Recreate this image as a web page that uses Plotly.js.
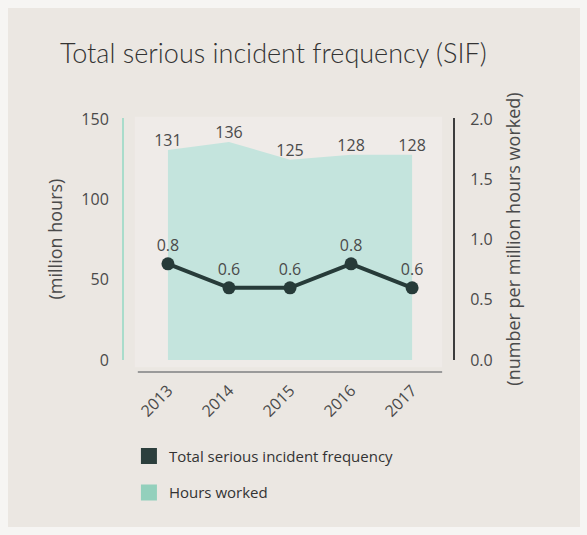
<!DOCTYPE html>
<html>
<head>
<meta charset="utf-8">
<script src="https://cdn.plot.ly/plotly-3.0.1.min.js"></script>
<style>html,body{margin:0;padding:0;background:#f6f5f3;}</style>
</head>
<body>
<div id="chart" style="width:587px;height:535px;"></div>
<script>
const years = ["2013", "2014", "2015", "2016", "2017"];
const hoursWorked = [131, 136, 125, 128, 128];
const sif = [0.8, 0.6, 0.6, 0.8, 0.6];
const leftTicks = [0, 50, 100, 150];
const rightTicks = [0, 0.5, 1.0, 1.5, 2.0];
const rightTickText = ["0.0", "0.5", "1.0", "1.5", "2.0"];

const FONT = "'Open Sans', Lato, sans-serif";
const TFONT = "Lato, 'Open Sans', sans-serif";
const TXT = "#4a4a4a";

const traces = [
  {
    type: "scatter", x: years, y: hoursWorked, mode: "lines+text",
    fill: "tozeroy", fillcolor: "#c4e4dd", line: {width: 0, color: "#c4e4dd"},
    text: hoursWorked.map(String), textposition: "top center",
    textfont: {family: FONT, size: 16, color: TXT},
    showlegend: false, hoverinfo: "skip", cliponaxis: false
  },
  {
    type: "scatter", x: years, y: sif, yaxis: "y2", mode: "lines+markers+text",
    line: {color: "#273b39", width: 4},
    marker: {color: "#273b39", size: 13},
    text: sif.map(v => v.toFixed(1)), textposition: "top center",
    textfont: {family: FONT, size: 16, color: TXT},
    showlegend: false, cliponaxis: false
  },
  {
    type: "scatter", x: [null], y: [null], mode: "markers",
    name: "Total serious incident frequency", legendgroup: "a",
    marker: {symbol: "square", size: 16, color: "#2c3f3d"}
  },
  {
    type: "scatter", x: [null], y: [null], mode: "markers",
    name: "Hours worked", legendgroup: "b",
    marker: {symbol: "square", size: 16, color: "#93d0bc"}
  }
];

const layout = {
  width: 587, height: 535,
  margin: {l: 124, r: 134, t: 118, b: 175},
  paper_bgcolor: "#f6f5f3",
  plot_bgcolor: "rgba(0,0,0,0)",
  font: {family: FONT, color: TXT, size: 16},
  title: {
    text: "Total serious incident frequency (SIF)",
    font: {family: TFONT, size: 27, color: "#333333", weight: 300},
    xref: "container", yref: "container",
    x: 60/587, xanchor: "left", y: 1 - 54/535, yanchor: "middle"
  },
  xaxis: {
    type: "category", range: [-0.72, 4.67],
    showgrid: false, zeroline: false, showline: false,
    ticks: "outside", ticklen: 14, tickcolor: "rgba(0,0,0,0)",
    tickangle: -45, tickfont: {family: FONT, size: 16, color: TXT}
  },
  yaxis: {
    range: [0, 151], tickvals: leftTicks,
    showgrid: false, zeroline: false,
    showline: true, linecolor: "#a9dccb", linewidth: 2,
    ticks: "outside", ticklen: 10, tickcolor: "rgba(0,0,0,0)",
    tickfont: {family: FONT, size: 16, color: TXT},
    title: {text: "(million hours)", font: {family: FONT, size: 18, color: TXT}, standoff: 14}
  },
  yaxis2: {
    overlaying: "y", side: "right", range: [0, 2.013],
    tickvals: rightTicks, ticktext: rightTickText,
    showgrid: false, zeroline: false,
    showline: true, linecolor: "#3d3d3d", linewidth: 2,
    ticks: "outside", ticklen: 12, tickcolor: "rgba(0,0,0,0)",
    tickfont: {family: FONT, size: 16, color: TXT},
    title: {text: "(number per million hours worked)", font: {family: FONT, size: 18, color: TXT}, standoff: 16}
  },
  legend: {
    x: 0.015, xanchor: "left", y: -0.33, yanchor: "top",
    orientation: "v", tracegroupgap: 14,
    font: {family: FONT, size: 15, color: "#333333"},
    bgcolor: "rgba(0,0,0,0)", itemwidth: 30
  },
  shapes: [
    {type: "rect", xref: "paper", yref: "paper", x0: -0.3526, x1: 1.386, y0: -0.69, y1: 1.4545,
     fillcolor: "#ebe7e2", line: {width: 0}, layer: "below"},
    {type: "rect", xref: "paper", yref: "paper", x0: 0.033, x1: 0.967, y0: -0.03, y1: 1.005,
     fillcolor: "#efebe8", line: {width: 0}, layer: "below"},
    {type: "line", xref: "paper", yref: "paper", x0: 0.042, x1: 0.967, y0: -0.05, y1: -0.05,
     line: {color: "#9a9a9a", width: 2}, layer: "below"}
  ]
};

Plotly.newPlot("chart", traces, layout, {displayModeBar: false, staticPlot: true});
</script>
</body>
</html>
